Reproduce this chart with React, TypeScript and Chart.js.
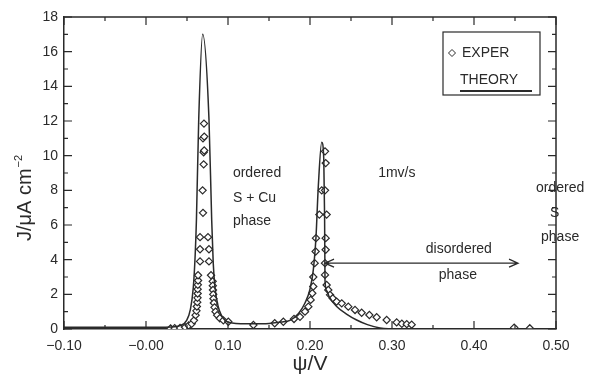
import React, { useEffect, useRef } from "react";
import { Chart, registerables } from "chart.js";
Chart.register(...registerables);

// ---- data ----
const THEORY_X = [-0.1, 0.0, 0.03, 0.042, 0.0496, 0.054, 0.0577, 0.06, 0.0615, 0.0643, 0.0691, 0.0768, 0.0801, 0.082, 0.0841, 0.088, 0.0963, 0.105, 0.13, 0.15, 0.165, 0.1756, 0.186, 0.1939, 0.2, 0.204, 0.2073, 0.2101, 0.2143, 0.2168, 0.2178, 0.2183, 0.2205, 0.2235, 0.2325, 0.245, 0.2569, 0.27, 0.2854, 0.31, 0.5];
const THEORY_Y = [0.1, 0.1, 0.12, 0.2, 0.5, 1.1, 2.4, 4.3, 6.3, 12.1, 17.0, 12.1, 6.3, 3.8, 2.4, 1.3, 0.5, 0.35, 0.3, 0.32, 0.4, 0.5, 0.9, 1.5, 2.3, 3.4, 5.3, 8.2, 10.77, 9.8, 6.5, 2.8, 2.2, 1.85, 1.3, 0.85, 0.52, 0.25, 0.06, 0.0, 0.0];

const EXPER_X = [
  0.030, 0.035, 0.0415, 0.0476, 0.052, 0.0557, 0.0585,
  0.0605, 0.0615, 0.062, 0.0625, 0.0628, 0.063, 0.063, 0.0632, 0.0635, 0.0635, 0.0659, 0.0659, 0.0659,
  0.0695, 0.069, 0.0703, 0.0703, 0.0695, 0.0707, 0.071, 0.071,
  0.0756, 0.0768, 0.0768, 0.0793, 0.0813, 0.0815, 0.0817, 0.082, 0.0823, 0.0828, 0.0835, 0.0848, 0.0868, 0.09, 0.0943, 0.1004,
  0.131, 0.157, 0.1675, 0.1805, 0.1878,
  0.1939, 0.198, 0.2008, 0.2028, 0.204, 0.204, 0.2057, 0.2069, 0.2073, 0.2114, 0.2143,
  0.2183, 0.2191, 0.2183, 0.2203, 0.2191, 0.2191, 0.2183, 0.2183, 0.2203, 0.2223, 0.2244, 0.2277, 0.2325, 0.2387, 0.2467, 0.2549, 0.263, 0.2724, 0.2813, 0.2935, 0.3057, 0.312, 0.318, 0.324,
  0.449, 0.468,
];
const EXPER_Y = [
  0.03, 0.05, 0.06, 0.1, 0.2, 0.3, 0.5,
  0.8, 1.05, 1.3, 1.55, 1.8, 2.05, 2.3, 2.55, 2.8, 3.1, 3.9, 4.6, 5.3,
  6.7, 8.0, 9.5, 10.2, 11.0, 11.85, 11.1, 10.3,
  5.3, 4.6, 3.9, 3.1, 2.75, 2.5, 2.25, 2.0, 1.75, 1.5, 1.25, 1.0, 0.8, 0.62, 0.5, 0.42,
  0.23, 0.33, 0.42, 0.58, 0.7,
  1.0, 1.29, 1.68, 2.06, 2.45, 3.0, 3.8, 4.47, 5.24, 6.6, 8.0,
  10.25, 9.57, 8.0, 6.6, 5.24, 4.57, 3.8, 3.12, 2.54, 2.25, 1.97, 1.77, 1.58, 1.48, 1.29, 1.1, 0.94, 0.81, 0.68, 0.52, 0.38, 0.3, 0.28, 0.25,
  0.08, 0.04,
];

const X_TICK_LABELS = ["\u22120.10", "\u22120.00", "0.10", "0.20", "0.30", "0.40", "0.50"];
const X_MIN = -0.1;
const X_MAX = 0.5;
const Y_MIN = 0;
const Y_MAX = 18;

const ARROW_X = [0.2183, 0.4537];
const ARROW_Y = 3.8;

const NOTES = [
  { text: "ordered", x: 0.106, y: 9.0 },
  { text: "S + Cu", x: 0.106, y: 7.55 },
  { text: "phase", x: 0.106, y: 6.2 },
  { text: "1mv/s", x: 0.3059, y: 9.0, center: true },
  { text: "disordered", x: 0.3815, y: 4.6, center: true },
  { text: "phase", x: 0.3803, y: 3.1, center: true },
  { text: "ordered", x: 0.505, y: 8.1, center: true },
  { text: "S", x: 0.4985, y: 6.7, center: true },
  { text: "phase", x: 0.505, y: 5.3, center: true },
];

const Y_TITLE = "J/\u03bcA cm";
const Y_TITLE_SUP = "\u22122";
const X_TITLE = "\u03c8/V";

const FONT = "'Liberation Sans', Arial, sans-serif";
const INK = "#2a2a2a";

const decorPlugin = {
  id: "decor",
  afterDraw(chart: any) {
    const { ctx, chartArea } = chart;
    const xs = chart.scales.x;
    const ys = chart.scales.y;
    const { left, right, top, bottom } = chartArea;
    ctx.save();
    ctx.strokeStyle = INK;
    ctx.lineWidth = 1.5;
    // frame
    ctx.beginPath();
    ctx.moveTo(left, top);
    ctx.lineTo(right, top);
    ctx.lineTo(right, bottom);
    ctx.stroke();
    ctx.lineWidth = 1.2;
    // x ticks (inward, top & bottom)
    for (let i = 0; i <= 12; i++) {
      const v = X_MIN + i * 0.05;
      const px = xs.getPixelForValue(v);
      const len = i % 2 === 0 ? 8 : 4;
      ctx.beginPath();
      ctx.moveTo(px, bottom);
      ctx.lineTo(px, bottom - len);
      ctx.moveTo(px, top);
      ctx.lineTo(px, top + len);
      ctx.stroke();
    }
    // y ticks (inward, left & right)
    for (let v = Y_MIN; v <= Y_MAX; v++) {
      const py = ys.getPixelForValue(v);
      const len = v % 2 === 0 ? 8 : 4;
      ctx.beginPath();
      ctx.moveTo(left, py);
      ctx.lineTo(left + len, py);
      ctx.moveTo(right, py);
      ctx.lineTo(right - len, py);
      ctx.stroke();
    }
    // double arrow
    const ax0 = xs.getPixelForValue(ARROW_X[0]);
    const ax1 = xs.getPixelForValue(ARROW_X[1]);
    const ay = ys.getPixelForValue(ARROW_Y);
    ctx.lineWidth = 1.3;
    ctx.beginPath();
    ctx.moveTo(ax0, ay);
    ctx.lineTo(ax1, ay);
    ctx.moveTo(ax0 + 9, ay - 4);
    ctx.lineTo(ax0, ay);
    ctx.lineTo(ax0 + 9, ay + 4);
    ctx.moveTo(ax1 - 9, ay - 4);
    ctx.lineTo(ax1, ay);
    ctx.lineTo(ax1 - 9, ay + 4);
    ctx.stroke();
    // notes
    ctx.fillStyle = INK;
    ctx.font = `14px ${FONT}`;
    ctx.textBaseline = "middle";
    for (const n of NOTES) {
      ctx.textAlign = n.center ? "center" : "left";
      ctx.fillText(n.text, xs.getPixelForValue(n.x), ys.getPixelForValue(n.y));
    }
    // y title with superscript
    ctx.save();
    ctx.translate(24, 198);
    ctx.rotate(-Math.PI / 2);
    ctx.font = `20px ${FONT}`;
    const w1 = ctx.measureText(Y_TITLE).width;
    ctx.font = `11px ${FONT}`;
    const w2 = ctx.measureText(Y_TITLE_SUP).width;
    const start = -(w1 + w2 + 1) / 2;
    ctx.textAlign = "left";
    ctx.textBaseline = "alphabetic";
    ctx.font = `20px ${FONT}`;
    ctx.fillText(Y_TITLE, start, 7);
    ctx.font = `11px ${FONT}`;
    ctx.fillText(Y_TITLE_SUP, start + w1 + 1, -2);
    ctx.restore();
    // legend
    const lx = 443, ly = 32, lw = 97, lh = 63;
    ctx.lineWidth = 1.2;
    ctx.strokeRect(lx, ly, lw, lh);
    ctx.lineWidth = 1;
    const dx = lx + 9, dy = ly + 21;
    ctx.beginPath();
    ctx.moveTo(dx, dy - 3.5);
    ctx.lineTo(dx + 3.5, dy);
    ctx.lineTo(dx, dy + 3.5);
    ctx.lineTo(dx - 3.5, dy);
    ctx.closePath();
    ctx.fillStyle = "#fff";
    ctx.fill();
    ctx.stroke();
    ctx.fillStyle = INK;
    ctx.textAlign = "left";
    ctx.textBaseline = "middle";
    ctx.font = `14px ${FONT}`;
    ctx.fillText("EXPER", lx + 19, dy);
    ctx.fillText("THEORY", lx + 17, ly + 48);
    ctx.lineWidth = 2;
    ctx.beginPath();
    ctx.moveTo(lx + 17, ly + 59);
    ctx.lineTo(lx + 89, ly + 59);
    ctx.stroke();
    ctx.restore();
  },
};

export default function App() {
  const ref = useRef<HTMLCanvasElement | null>(null);
  useEffect(() => {
    document.body.style.margin = "0";
    const theory = THEORY_X.map((x, i) => ({ x, y: THEORY_Y[i] }));
    const exper = EXPER_X.map((x, i) => ({ x, y: EXPER_Y[i] }));
    const chart = new Chart(ref.current as HTMLCanvasElement, {
      type: "scatter",
      data: {
        datasets: [
          {
            label: "THEORY",
            data: theory,
            showLine: true,
            borderColor: INK,
            borderWidth: 1.5,
            pointRadius: 0,
            cubicInterpolationMode: "monotone",
          } as any,
          {
            label: "EXPER",
            data: exper,
            showLine: false,
            pointStyle: "rectRot",
            pointRadius: 3.6,
            borderColor: INK,
            borderWidth: 1.2,
            backgroundColor: "#fff",
          },
        ],
      },
      options: {
        responsive: false,
        animation: false,
        layout: { padding: { top: 17, right: 34, left: 0, bottom: 0 } },
        plugins: { legend: { display: false }, tooltip: { enabled: false } },
        scales: {
          x: {
            type: "linear",
            min: X_MIN,
            max: X_MAX,
            grid: { display: false, drawTicks: false },
            border: { display: true, color: INK, width: 1.5 },
            ticks: {
              stepSize: 0.1,
              padding: 9,
              color: INK,
              font: { family: FONT, size: 14 },
              maxRotation: 0,
              callback: (_v: any, i: number) => X_TICK_LABELS[i],
            },
            title: {
              display: true,
              text: X_TITLE,
              color: INK,
              font: { family: FONT, size: 21 },
              padding: { top: 0, bottom: 0 },
            },
            afterFit: (s: any) => {
              s.height = 48;
            },
          },
          y: {
            type: "linear",
            min: Y_MIN,
            max: Y_MAX,
            grid: { display: false, drawTicks: false },
            border: { display: true, color: INK, width: 1.5 },
            ticks: {
              stepSize: 2,
              padding: 6,
              color: INK,
              font: { family: FONT, size: 14 },
            },
            afterFit: (s: any) => {
              s.width = 64;
            },
          },
        },
      },
      plugins: [decorPlugin],
    });
    return () => chart.destroy();
  }, []);
  return <canvas ref={ref} width={590} height={377} style={{ display: "block" }} />;
}
